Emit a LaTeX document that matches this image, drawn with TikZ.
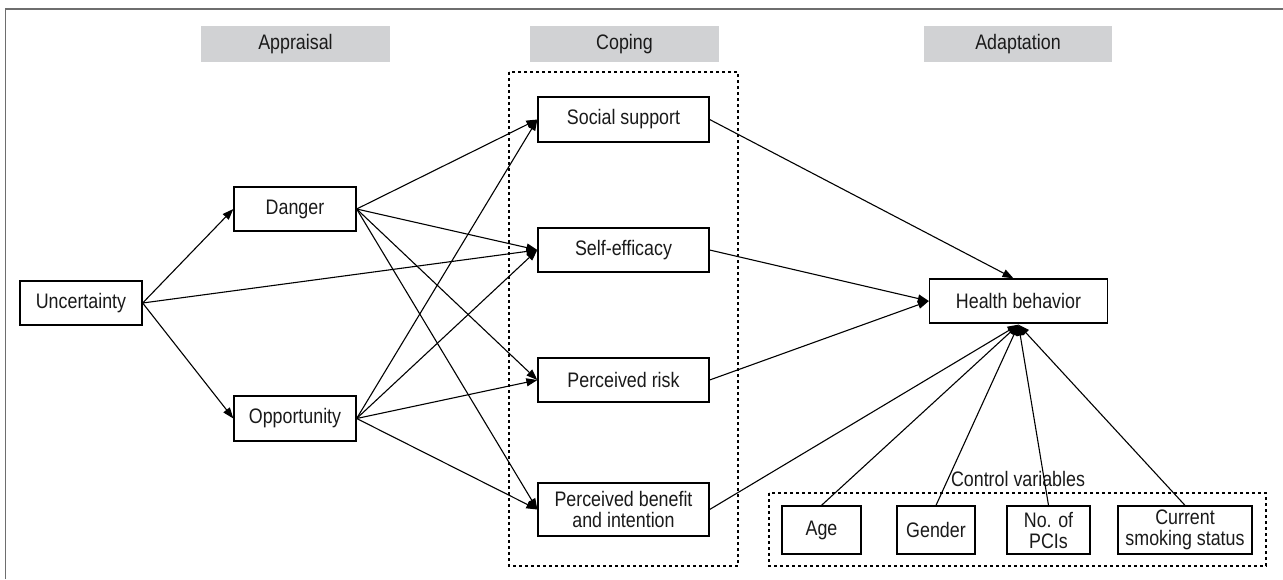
\documentclass[tikz,border=0pt]{standalone}
\usepackage{fontspec}
\setmainfont{Liberation Sans}[FakeStretch=0.85]
\usetikzlibrary{arrows.meta,calc}
\definecolor{hdrgray}{HTML}{D1D2D4}
\definecolor{txt}{HTML}{1A1A1A}
\definecolor{framegray}{HTML}{6E6E6E}
\begin{document}
\begin{tikzpicture}[x=1pt,y=-1pt,
  every node/.style={font=\fontsize{21}{21}\selectfont, text=txt},
  box/.style={draw=black, line width=1.3pt, fill=white, inner sep=0pt, minimum height=44pt, align=center},
  hdr/.style={fill=hdrgray, inner sep=0pt, minimum width=189pt, minimum height=36pt},
  grp/.style={draw=black, line width=1.1pt, dash pattern=on 3pt off 3pt},
  arr/.style={draw=black, line width=1.1pt, -{Triangle[length=11pt,width=8pt]}}
]
\useasboundingbox (0,0) rectangle (1283,579);
\draw[framegray, line width=1.6pt] (5.5,579) -- (5.5,9) -- (1283,9);

% headers
\node[hdr] (app) at (295.5,44) {Appraisal};
\node[hdr] (cop) at (624.5,44) {Coping};
\node[hdr, minimum width=188pt] (ada) at (1018,44) {Adaptation};

% group boxes
\draw[grp] (509,72) rectangle (738,566);
\draw[grp] (769,493) rectangle (1266,566);
\node (ctl) at (1018,479) {Control variables};

% nodes
\node[box, minimum width=122pt] (unc) at (81,303) {Uncertainty};
\node[box, minimum width=122pt] (dan) at (295,209) {Danger};
\node[box, minimum width=122pt, minimum height=45pt] (opp) at (295,418.5) {Opportunity};
\node[box, minimum width=171pt, minimum height=45pt] (soc) at (623.5,119.5) {Social support};
\node[box, minimum width=171pt] (self) at (623.5,250) {Self-efficacy};
\node[box, minimum width=171pt] (risk) at (623.5,380) {Perceived risk};
\node[box, minimum width=171pt, minimum height=53pt] (ben) at (623.5,509.5) {Perceived benefit\\and intention};
\node[box, minimum width=178pt] (hb) at (1018.5,301) {Health behavior};
\node[box, minimum width=79pt, minimum height=48pt] (age) at (821.5,530) {Age};
\node[box, minimum width=78pt, minimum height=48pt] (gen) at (936,530) {Gender};
\node[box, minimum width=83pt, minimum height=48pt] (pci) at (1048.5,530) {No. of\\PCIs};
\node[box, minimum width=134pt, minimum height=48pt] (cur) at (1185,530) {Current\\smoking status};

\coordinate (hbt) at ($(hb.north)+(-5,0)$);
\coordinate (hbb) at ($(hb.south)+(0,1)$);

% appraisal arrows
\draw[arr] (unc.east) -- (dan.west);
\draw[arr] (unc.east) -- (opp.west);
\draw[arr] (unc.east) -- (self.west);

\foreach \t in {soc,self,risk,ben}{
  \draw[arr] (dan.east) -- (\t.west);
  \draw[arr] (opp.east) -- (\t.west);
}

% coping to adaptation
\draw[arr] (soc.east) -- (hbt);
\draw[arr] (self.east) -- (hb.west);
\draw[arr] (risk.east) -- (hb.west);
\draw[arr] (ben.east) -- (hbb);

% controls
\draw[arr] (age.north) -- (hbb);
\draw[arr] (gen.north) -- (hbb);
\draw[arr] (pci.north) -- (hbb);
\draw[arr] (cur.north) -- (hbb);
\end{tikzpicture}
\end{document}
